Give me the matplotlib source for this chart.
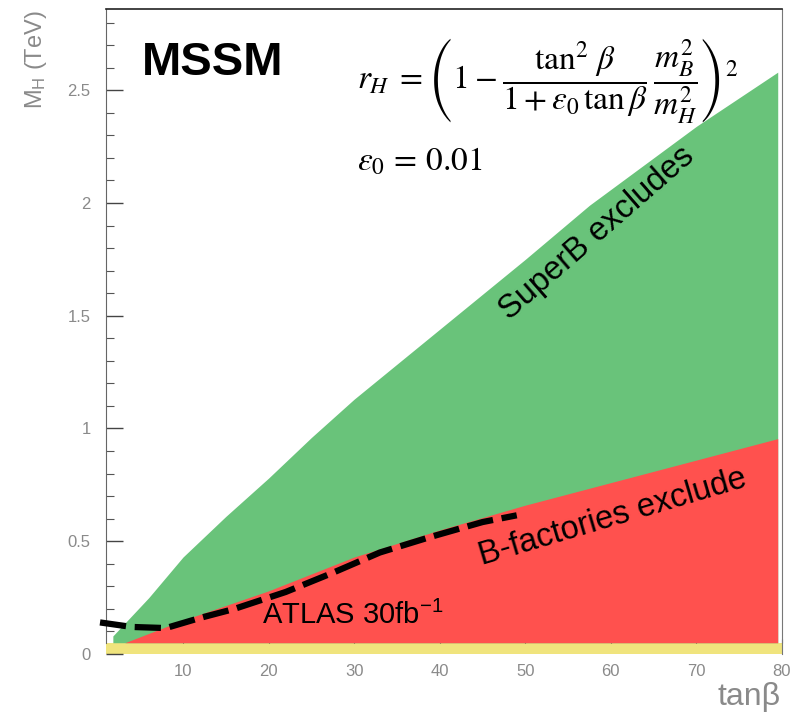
import matplotlib
matplotlib.use("Agg")
import matplotlib.pyplot as plt
import matplotlib.ticker as mticker

plt.rcParams['font.family'] = ['Liberation Sans', 'DejaVu Sans']
plt.rcParams['mathtext.fontset'] = 'custom'
plt.rcParams['mathtext.rm'] = 'Liberation Sans'
plt.rcParams['mathtext.it'] = 'Liberation Sans:italic'

# SuperB excluded region (upper edge), tan(beta) vs M_H in TeV
superb_tanb = [1.8, 1.8, 6, 10, 15, 20, 25, 30, 40, 50, 57.5, 70, 79.5]
superb_mh = [0.05, 0.08, 0.25, 0.43, 0.61, 0.78, 0.96, 1.13, 1.44, 1.75, 1.99, 2.34, 2.58]

# B-factories excluded region (upper edge)
bfact_tanb = [3.2, 10, 20, 30, 40, 50, 60, 70, 79.5]
bfact_mh = [0.05, 0.15, 0.28, 0.43, 0.55, 0.66, 0.76, 0.86, 0.955]

# ATLAS 30 fb-1 reach (dashed)
atlas_tanb = [0.3, 4, 8, 12, 16, 22, 27.5, 33, 39, 45, 49]
atlas_mh = [0.14, 0.12, 0.115, 0.16, 0.2, 0.275, 0.36, 0.45, 0.52, 0.585, 0.615]

band_top = 0.05
green = '#69C37A'
red = '#FF514E'
yellow = '#F0E47D'
grey = '#8a8a8a'

fig = plt.figure(figsize=(7.94, 7.13), dpi=100)
ax = fig.add_axes([106 / 794, 1 - 654 / 713, (782 - 106) / 794, (654 - 9) / 713])
ax.set_xlim(1, 80)
ax.set_ylim(0, 2.86)

ax.fill_between([1, 80], 0, band_top, color=yellow, lw=0, zorder=1)
ax.fill_between(superb_tanb, band_top, superb_mh, color=green, lw=0, zorder=2)
ax.fill_between(bfact_tanb, band_top, bfact_mh, color=red, lw=0, zorder=3)
ax.plot(atlas_tanb, atlas_mh, color='black', lw=4.5, dashes=(4.2, 1.4),
        clip_on=False, zorder=5)

# axes style (ROOT-like)
ax.spines['bottom'].set_position(('data', band_top))
ax.spines['bottom'].set_linewidth(0)
ax.spines['left'].set_bounds(band_top, 2.86)
ax.spines['left'].set_color('#666666')
ax.spines['right'].set_color('#777777')
ax.spines['top'].set_color('#222222')
ax.spines['top'].set_linewidth(1.2)

ax.yaxis.set_major_locator(mticker.MultipleLocator(0.5))
ax.yaxis.set_minor_locator(mticker.MultipleLocator(0.1))
ax.yaxis.set_major_formatter(mticker.FormatStrFormatter('%g'))
ax.xaxis.set_major_locator(mticker.FixedLocator([10, 20, 30, 40, 50, 60, 70, 80]))
ax.tick_params(axis='y', which='major', direction='in', length=12, width=1,
               color='#444444', labelcolor=grey, labelsize=12, pad=11)
ax.tick_params(axis='y', which='minor', direction='in', length=6, width=0.8,
               color='#555555')
ax.tick_params(axis='x', which='major', direction='in', length=3, width=0.8,
               color='#333333', labelcolor=grey, labelsize=12, pad=15)
ax.tick_params(right=False, top=False)
ax.yaxis.get_major_ticks()[0].tick1line.set_visible(False)

# labels
fig.text(36 / 794, 1 - 10 / 713, r'M$_{\rm H}$ (TeV)', rotation=90, ha='center',
         va='top', fontsize=17, color=grey)
fig.text(781 / 794, 1 - 705 / 713, 'tanβ', ha='right', va='baseline',
         fontsize=23, color=grey)

fig.text(142 / 794, 1 - 75 / 713, 'MSSM', fontsize=34, fontweight='bold',
         ha='left', va='baseline')
formula = (r'$r_H\; = \left(1 - \dfrac{\tan^2\,\beta}{1+\varepsilon_0\,\tan\beta}'
           r'\,\dfrac{m_B^2}{m_H^2}\right)^2$')
fig.text(357 / 794, 1 - 80 / 713, formula, fontsize=24, math_fontfamily='stix',
         ha='left', va='center')
fig.text(357 / 794, 1 - 162 / 713, r'$\varepsilon_0\, =\, 0.01$', fontsize=24,
         math_fontfamily='stix', ha='left', va='center')

ax.text(48.2, 1.48, 'SuperB excludes', rotation=41, rotation_mode='anchor',
        ha='left', va='baseline', fontsize=23.5, zorder=6)
ax.text(44.9, 0.394, 'B-factories exclude', rotation=16.5, rotation_mode='anchor',
        ha='left', va='baseline', fontsize=23.5, zorder=6)
ax.text(19.2, 0.133, r'ATLAS 30fb$^{-1}$', ha='left', va='baseline',
        fontsize=21, zorder=6)

fig.savefig('out.png', dpi=100)
